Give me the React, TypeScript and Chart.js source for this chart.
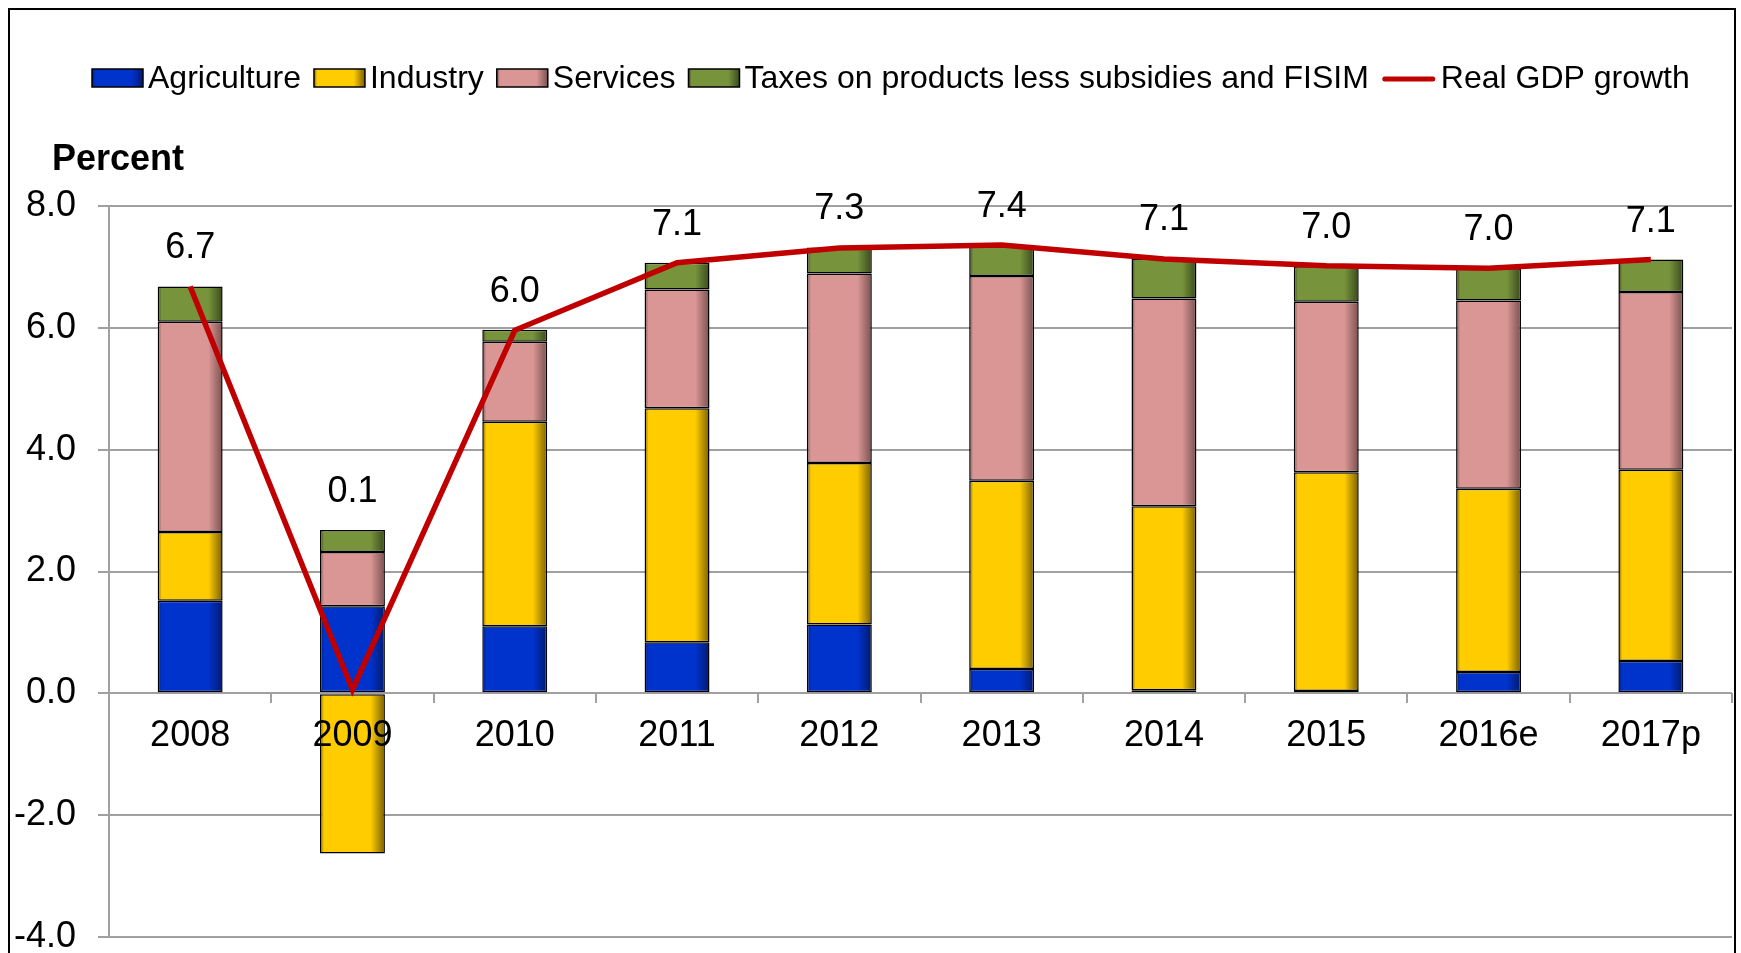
import React, { useEffect, useRef } from 'react';
import { Chart, registerables } from 'chart.js';

Chart.register(...registerables);

const years = ['2008', '2009', '2010', '2011', '2012', '2013', '2014', '2015', '2016e', '2017p'];
const agriculture = [1.52, 1.43, 1.10, 0.84, 1.13, 0.40, 0.05, 0.04, 0.35, 0.53];
const industry = [1.13, -2.63, 3.36, 3.84, 2.65, 3.09, 3.02, 3.59, 3.01, 3.14];
const services = [3.45, 0.89, 1.31, 1.95, 3.11, 3.36, 3.41, 2.80, 3.09, 2.92];
const taxes = [0.58, 0.36, 0.20, 0.44, 0.43, 0.51, 0.66, 0.58, 0.53, 0.53];
const gdpGrowth = [6.68, 0.06, 5.96, 7.07, 7.31, 7.36, 7.13, 7.02, 6.98, 7.12];
const yTicks = [-4, -2, 0, 2, 4, 6, 8];
const seriesNames = ['Agriculture', 'Industry', 'Services', 'Taxes on products less subsidies and FISIM', 'Real GDP growth'];
const yTitle = 'Percent';

const FONT = '"Liberation Sans", Arial, Helvetica, sans-serif';
const barColors = ['#0033CC', '#FFCC00', '#D99694', '#77933C'];
const barDark = ['#001a70', '#7a6000', '#7a5150', '#3a4a1c'];
const lineColor = '#C00000';
const gridColor = '#A0A0A0';

function gradientFill(c: CanvasRenderingContext2D, x0: number, x1: number, i: number) {
  const g = c.createLinearGradient(x0, 0, x1, 0);
  g.addColorStop(0, barDark[i]);
  g.addColorStop(0.06, barColors[i]);
  g.addColorStop(0.78, barColors[i]);
  g.addColorStop(1, barDark[i]);
  return g;
}

function barBg(i: number) {
  return (ctx: any) => {
    const chart = ctx.chart;
    const xs = chart.scales && chart.scales.x;
    if (!xs || ctx.type !== 'data' || !chart.ctx) return barColors[i];
    const cx = xs.getPixelForValue(ctx.dataIndex);
    const w = (xs.width / years.length) * 0.4;
    if (!isFinite(cx) || !isFinite(w) || w <= 0) return barColors[i];
    return gradientFill(chart.ctx, cx - w / 2, cx + w / 2, i);
  };
}

const overlayPlugin = {
  id: 'overlay',
  afterDatasetsDraw(chart: any) {
    const c: CanvasRenderingContext2D = chart.ctx;
    const xs = chart.scales.x;
    const ys = chart.scales.y;
    c.save();
    c.fillStyle = '#000';
    c.font = `36px ${FONT}`;
    c.textAlign = 'center';
    c.textBaseline = 'alphabetic';
    years.forEach((_, i) => {
      const pos = [agriculture[i], industry[i], services[i], taxes[i]].filter((v) => v > 0).reduce((a, b) => a + b, 0);
      const top = Math.min(ys.getPixelForValue(pos), ys.getPixelForValue(gdpGrowth[i]));
      c.fillText(gdpGrowth[i].toFixed(1), xs.getPixelForValue(i), top - 28);
    });
    c.restore();
  },
  afterDraw(chart: any) {
    const c: CanvasRenderingContext2D = chart.ctx;
    c.save();
    // Title
    c.fillStyle = '#000';
    c.font = `bold 36px ${FONT}`;
    c.textAlign = 'left';
    c.textBaseline = 'alphabetic';
    c.fillText(yTitle, 42, 160);
    // Legend
    c.font = `32px ${FONT}`;
    let x = 82;
    const boxW = 51;
    const boxTop = 59;
    const boxH = 18;
    const baseline = 78;
    seriesNames.forEach((name, i) => {
      if (i < 4) {
        c.fillStyle = gradientFill(c, x, x + boxW, i);
        c.fillRect(x, boxTop, boxW, boxH);
        c.strokeStyle = '#000';
        c.lineWidth = 1.5;
        c.strokeRect(x, boxTop, boxW, boxH);
      } else {
        c.strokeStyle = lineColor;
        c.lineWidth = 5;
        c.lineCap = 'round';
        c.beginPath();
        c.moveTo(x + 3, boxTop + 10);
        c.lineTo(x + 54 - 3, boxTop + 10);
        c.stroke();
      }
      x += (i < 4 ? boxW : 54) + 5;
      c.fillStyle = '#000';
      c.fillText(name, x, baseline);
      x += c.measureText(name).width + 13;
    });
    c.restore();
  },
};

export default function App() {
  const ref = useRef<HTMLCanvasElement>(null);
  useEffect(() => {
    document.documentElement.style.overflow = 'hidden';
    document.body.style.overflow = 'hidden';
    const barDs = [agriculture, industry, services, taxes].map((d, i) => ({
      type: 'bar' as const,
      label: seriesNames[i],
      data: d,
      backgroundColor: barBg(i),
      borderColor: '#000',
      borderWidth: 1.5,
      borderSkipped: false,
      stack: 'comp',
      order: 1,
      categoryPercentage: 0.4,
      barPercentage: 1,
    }));
    const chart = new Chart(ref.current as HTMLCanvasElement, {
      type: 'bar',
      data: {
        labels: years,
        datasets: [
          {
            type: 'line' as const,
            label: seriesNames[4],
            data: gdpGrowth,
            borderColor: lineColor,
            backgroundColor: lineColor,
            borderWidth: 5.5,
            pointRadius: 0,
            tension: 0,
            fill: false,
            stack: 'gdp',
            order: 0,
          } as any,
          ...barDs,
        ],
      },
      options: {
        responsive: false,
        animation: false,
        layout: { padding: { left: 0, top: 196, right: 2, bottom: 16 } },
        plugins: { legend: { display: false }, tooltip: { enabled: false }, title: { display: false } },
        scales: {
          x: {
            stacked: true,
            position: { y: 0 } as any,
            offset: true,
            grid: { display: true, drawOnChartArea: false, drawTicks: true, tickLength: 10, color: gridColor, lineWidth: 2, offset: true },
            border: { display: false },
            ticks: { z: 1, color: '#000', font: { size: 36, family: FONT }, padding: 11, maxRotation: 0, autoSkip: false },
          },
          y: {
            stacked: true,
            min: -4,
            max: 8,
            afterBuildTicks: (s: any) => {
              s.ticks = yTicks.map((v) => ({ value: v }));
            },
            afterFit: (s: any) => {
              s.width = 99;
              s.paddingTop = 0;
              s.paddingBottom = 0;
            },
            grid: { color: gridColor, lineWidth: 2, tickLength: 11, drawTicks: true },
            border: { display: true, color: gridColor, width: 2 },
            ticks: {
              color: '#000',
              font: { size: 36, family: FONT },
              padding: 22,
              callback: (v: any) => Number(v).toFixed(1),
            },
          },
        },
      },
      plugins: [overlayPlugin],
    } as any);
    return () => chart.destroy();
  }, []);
  return (
    <div
      style={{
        position: 'absolute',
        left: 8,
        top: 8,
        width: 1724,
        height: 960,
        borderLeft: '2px solid #000',
        borderTop: '2px solid #000',
        borderRight: '2px solid #000',
        background: '#fff',
      }}
    >
      <canvas ref={ref} width={1724} height={943} style={{ display: 'block', width: 1724, height: 943 }} />
    </div>
  );
}
